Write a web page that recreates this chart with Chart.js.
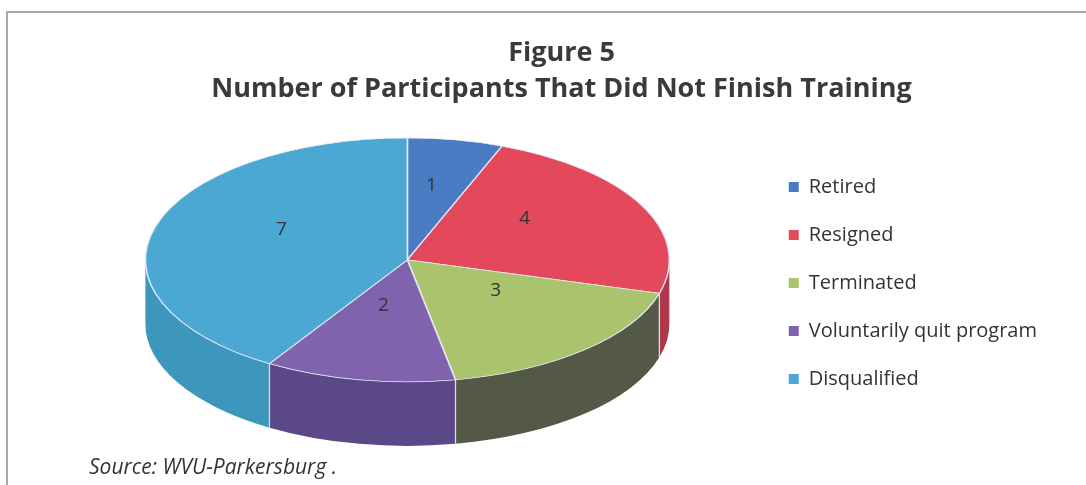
<!DOCTYPE html>
<html>
<head>
<meta charset="utf-8">
<script src="https://cdn.jsdelivr.net/npm/chart.js@4.4.1/dist/chart.umd.min.js"></script>
<style>
  html, body { margin: 0; padding: 0; background: #fff; }
  #wrap { position: relative; width: 1086px; height: 485px; overflow: hidden; }
  #frame { position: absolute; left: 6px; top: 11px; right: -6px; bottom: -6px;
           border-left: 2px solid #a8a8a8; border-top: 2px solid #a8a8a8; }
  #chart { position: absolute; left: 0; top: 0; }
  #source { position: absolute; left: 89px; top: 456px; font: italic 21px/21px "Open Sans", sans-serif; color: #333; white-space: nowrap; }
</style>
</head>
<body>
<div id="wrap">
  <div id="frame"></div>
  <canvas id="chart" width="1086" height="485"></canvas>
  <div id="source"></div>
</div>
<script>
// Reasons participants left training, and how many left for each
const categories = ['Retired', 'Resigned', 'Terminated', 'Voluntarily quit program', 'Disqualified'];
const participants = [1, 4, 3, 2, 7];
const topColors  = ['#4a7cc3', '#e3485b', '#a9c46c', '#7f63ad', '#4ba8d3'];
const sideColors = ['#3a62a0', '#b0384a', '#545846', '#5b4888', '#3d97bd'];
const titleLines = ['Figure 5', 'Number of Participants That Did Not Finish Training'];
const sourceNote = 'Source: WVU-Parkersburg .';

document.getElementById('source').textContent = sourceNote;

// Tilt of the pie: the flat pie that Chart.js lays out is squashed into an
// ellipse and given a wall of the stated depth.
const TILT = { rx: 262, ry: 122, depth: 64, shiftX: -11, shiftY: -23, labelLift: -14 };

function tiltFrame(chart) {
  const arc = chart.getDatasetMeta(0).data[0];
  const R = arc.outerRadius;
  return { cx: arc.x, cy: arc.y, R: R, sx: TILT.rx / R, sy: TILT.ry / R };
}
function applyTilt(ctx, f) {
  ctx.translate(f.cx + TILT.shiftX, f.cy + TILT.shiftY);
  ctx.scale(f.sx, f.sy);
  ctx.translate(-f.cx, -f.cy);
}

const pie3d = {
  id: 'pie3d',
  beforeDatasetsDraw(chart) {
    const ctx = chart.ctx;
    const f = tiltFrame(chart);
    const meta = chart.getDatasetMeta(0);
    const d = TILT.depth / f.sy;
    ctx.save();
    applyTilt(ctx, f);
    // front walls
    meta.data.forEach((arc, i) => {
      const a = Math.max(arc.startAngle, 0);
      const b = Math.min(arc.endAngle, Math.PI);
      if (b <= a) return;
      ctx.beginPath();
      ctx.arc(f.cx, f.cy, f.R, a, b);
      ctx.arc(f.cx, f.cy + d, f.R, b, a, true);
      ctx.closePath();
      ctx.fillStyle = sideColors[i];
      ctx.fill();
    });
    // wall seams where slices meet
    ctx.strokeStyle = 'rgba(232,236,246,0.9)';
    ctx.lineWidth = 0.8;
    meta.data.forEach((arc) => {
      const t = arc.startAngle;
      if (t > 0 && t < Math.PI) {
        const x = f.cx + f.R * Math.cos(t), y = f.cy + f.R * Math.sin(t);
        ctx.beginPath();
        ctx.moveTo(x, y);
        ctx.lineTo(x, y + d);
        ctx.stroke();
      }
    });
    // top faces are drawn next by Chart.js under the same tilt
  },
  afterDatasetsDraw(chart) {
    const ctx = chart.ctx;
    ctx.restore();
    const f = tiltFrame(chart);
    const meta = chart.getDatasetMeta(0);
    ctx.save();
    ctx.fillStyle = '#333';
    ctx.font = '19px "Open Sans", sans-serif';
    ctx.textAlign = 'center';
    ctx.textBaseline = 'middle';
    meta.data.forEach((arc, i) => {
      const mid = (arc.startAngle + arc.endAngle) / 2;
      const r = f.R * 0.5;
      const x = f.cx + TILT.shiftX + r * Math.cos(mid) * f.sx;
      const y = f.cy + TILT.shiftY + TILT.labelLift + r * Math.sin(mid) * f.sy;
      ctx.fillText(String(participants[i]), x, y);
    });
    ctx.restore();
  }
};

new Chart(document.getElementById('chart'), {
  type: 'pie',
  data: {
    labels: categories,
    datasets: [{
      data: participants,
      backgroundColor: topColors,
      borderColor: 'rgba(232,236,246,0.95)',
      borderWidth: 1,
      clip: false
    }]
  },
  options: {
    responsive: false,
    animation: false,
    layout: { padding: { left: 76, right: 39, top: 0, bottom: 38 } },
    plugins: {
      title: {
        display: true,
        text: titleLines,
        color: '#3a3a3a',
        font: { family: 'Open Sans', size: 27, weight: 'bold', lineHeight: 1.33 },
        padding: { top: 35, bottom: 12 }
      },
      legend: {
        position: 'right',
        fullSize: false,
        labels: {
          boxWidth: 10,
          boxHeight: 10,
          padding: 28,
          color: '#333',
          font: { family: 'Open Sans', size: 20 },
          generateLabels(chart) {
            return Chart.overrides.pie.plugins.legend.labels.generateLabels(chart)
              .map(l => Object.assign(l, { lineWidth: 0 }));
          }
        }
      },
      tooltip: { enabled: false }
    }
  },
  plugins: [pie3d]
});
</script>
</body>
</html>
